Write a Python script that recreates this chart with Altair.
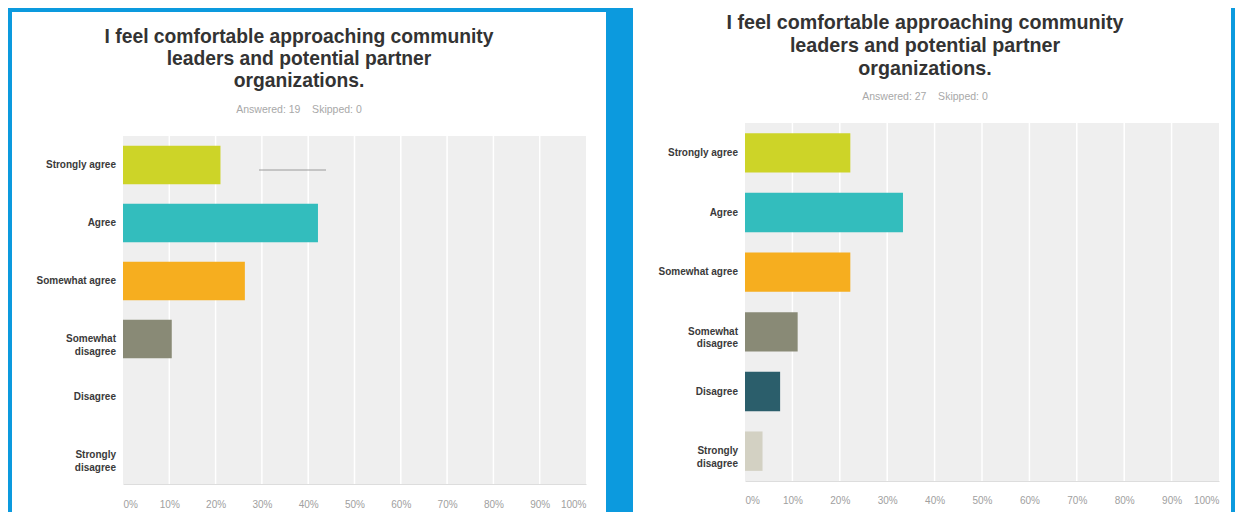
import altair as alt
import pandas as pd

# ---------------- data ----------------
categories = ["Strongly agree", "Agree", "Somewhat agree",
              "Somewhat\ndisagree", "Disagree", "Strongly\ndisagree"]
bar_colors = ["#cdd428", "#33bdbd", "#f6ae1f", "#898a76", "#2b5e6b", "#d3d1c3"]
left_values = [21.05, 42.11, 26.32, 10.53, 0.0, 0.0]      # Answered: 19
right_values = [22.22, 33.33, 22.22, 11.11, 7.41, 3.70]   # Answered: 27
tick_values = [0, 10, 20, 30, 40, 50, 60, 70, 80, 90, 100]
title_lines = ["I feel comfortable approaching community",
               "leaders and potential partner",
               "organizations."]
left_note = "Answered: 19\u00a0\u00a0\u00a0\u00a0Skipped: 0"
right_note = "Answered: 27\u00a0\u00a0\u00a0\u00a0Skipped: 0"

BLUE = "#0c9ade"
FONT = "Liberation Sans"
H = 504


def panel(values, note, W, box, x0, x1, y0, y1, cx, title_y, title_size, title_lh,
          note_y, label_pad, pad_inner, stray=None):
    df = pd.DataFrame({"category": categories, "value": values})
    one = pd.DataFrame({"title": ["\n".join(title_lines)], "note": [note]})
    grid_df = pd.DataFrame({"tick": tick_values[1:-1]})

    xscale = alt.Scale(domain=[0, 100], range=[x0, x1], nice=False, zero=True)
    xaxis = alt.Axis(values=tick_values, labelExpr="datum.value + '%'",
                     orient="bottom", offset=y1 - H, grid=False, ticks=False,
                     domain=True, domainColor="#dddddd", domainWidth=1,
                     labelFlush=True, labelColor="#a0a0a0", labelFontSize=10,
                     labelFont=FONT, labelPadding=label_pad, title=None, zindex=1)
    yscale = alt.Scale(domain=categories, range=[y0, y1],
                       paddingInner=pad_inner, paddingOuter=pad_inner / 2)

    layers = [
        # white card of the panel
        alt.Chart(one).mark_rect(color="white").encode(
            x=alt.value(box[0]), x2=alt.value(box[1]),
            y=alt.value(box[2]), y2=alt.value(box[3])),
        # grey plot area
        alt.Chart(one).mark_rect(color="#efefef").encode(
            x=alt.value(x0), x2=alt.value(x1), y=alt.value(y0), y2=alt.value(y1)),
        # white vertical gridlines
        alt.Chart(grid_df).mark_rule(color="white", strokeWidth=1.5).encode(
            x=alt.X("tick:Q", scale=xscale, axis=xaxis),
            y=alt.value(y0), y2=alt.value(y1)),
        # bars
        alt.Chart(df).mark_bar().encode(
            x=alt.X("value:Q", scale=xscale, axis=xaxis),
            y=alt.Y("category:N", scale=yscale, sort=categories, axis=None),
            color=alt.Color("category:N",
                            scale=alt.Scale(domain=categories, range=bar_colors),
                            legend=None)),
        # category labels
        alt.Chart(df).mark_text(
            align="right", baseline="middle", lineBreak="\n", lineHeight=12.5,
            fontSize=10, fontWeight="bold", font=FONT, color="#3a3a3a").encode(
            y=alt.Y("category:N", scale=yscale, sort=categories, axis=None),
            x=alt.value(x0 - 7), text="category:N"),
        # title (first line centred on title_y)
        alt.Chart(one).mark_text(
            align="center", baseline="middle", lineBreak="\n", lineHeight=title_lh,
            fontSize=title_size, fontWeight="bold", font=FONT, color="#333333").encode(
            x=alt.value(cx), y=alt.value(title_y), text="title:N"),
        # answered / skipped
        alt.Chart(one).mark_text(
            align="center", baseline="middle", fontSize=10.5, font=FONT,
            color="#a8a8a8").encode(
            x=alt.value(cx), y=alt.value(note_y), text="note:N"),
    ]
    if stray:
        layers.append(alt.Chart(one).mark_rule(color="#9a9a9a", strokeWidth=1).encode(
            x=alt.value(stray[0]), x2=alt.value(stray[1]), y=alt.value(stray[2])))
    return alt.layer(*layers).properties(width=W, height=H)


# left view covers canvas x 0..625 (blue edge, white card 4..598, blue gap)
left = panel(left_values, left_note, 625, (4, 598, 4, H), 115, 578, 128, 476,
             291, 29, 19.3, 22, 102, 15, 0.334, stray=(251, 318, 162))
# right view covers canvas x 625..1227 (white card 0..598, blue edge)
right = panel(right_values, right_note, 602, (0, 598, 0, H), 112, 586, 115, 473,
              292, 14.5, 19.7, 23, 89, 14, 0.34)

chart = alt.hconcat(left, right, spacing=0).properties(
    background="white",
    padding={"left": 0, "top": 0, "right": 0, "bottom": 0},
).configure_view(fill=BLUE, strokeWidth=0)

chart.save("out.html", embed_options={"renderer": "svg", "actions": False})
